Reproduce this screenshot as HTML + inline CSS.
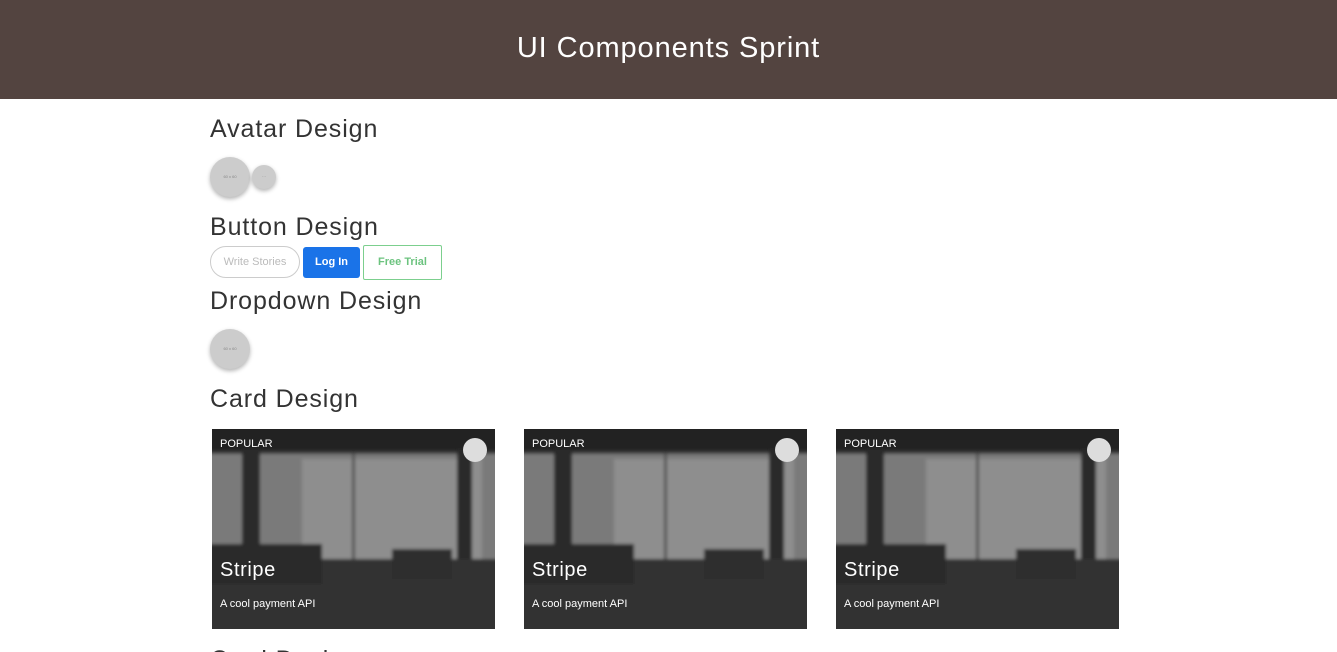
<!DOCTYPE html>
<html><head><style>
html,body{margin:0;height:652px;overflow:hidden}
body{font-family:"Liberation Sans",sans-serif;background:#fff;width:1337px}
#w{position:relative;width:1337px;height:652px;overflow:hidden}
.hdr{position:absolute;left:0;top:0;width:1337px;height:99px;background:#534440;color:#fff;font-size:29px;text-align:center;line-height:97px;letter-spacing:0.9px}
h2{position:absolute;left:210px;margin:0;font-weight:normal;font-size:25px;color:#333;letter-spacing:0.9px}
.av{position:absolute;border-radius:50%;background:#ccc;box-shadow:0 2px 4px rgba(0,0,0,.3);font-size:4px;color:#888;text-align:center}
.btn{position:absolute;top:246px;height:32px;box-sizing:border-box;font-size:11px;line-height:30px;text-align:center}
.card{position:absolute;top:429px;width:283px;height:200px;overflow:hidden;background:#333}
.card .t{position:absolute;color:#fff}
</style></head><body><div id="w">
<div class="hdr">UI Components Sprint</div>
<h2 style="top:115px">Avatar Design</h2>
<div class="av" style="left:210px;top:157px;width:40px;height:40px;line-height:40px">60 x 60</div>
<div class="av" style="left:252px;top:165px;width:24px;height:24px;line-height:24px">···</div>
<h2 style="top:213px">Button Design</h2>
<div class="btn" style="left:210px;width:90px;border:1px solid #ccc;border-radius:16px;color:#bbb">Write Stories</div>
<div class="btn" style="left:303px;width:57px;background:#1a73e8;border-radius:3px;color:#fff;font-weight:bold;top:247px;height:31px">Log In</div>
<div class="btn" style="left:363px;width:79px;border:1px solid #7ccf8e;border-radius:2px;color:#6cc37f;font-weight:bold;top:245px;height:35px;line-height:33px">Free Trial</div>
<h2 style="top:287px">Dropdown Design</h2>
<div class="av" style="left:210px;top:329px;width:40px;height:40px;line-height:40px">60 x 60</div>
<h2 style="top:385px">Card Design</h2>
<h2 style="top:646px">Card Design</h2>

<div class="card" style="left:212px">
<svg width="283" height="200"><defs><filter id="b" x="-10%" y="-10%" width="120%" height="120%"><feGaussianBlur stdDeviation="1.5" edgeMode="duplicate"/></filter></defs><g filter="url(#b)"><rect x="-10" y="-10" width="303" height="220" fill="#3a3a3a"/><rect x="-10" y="-10" width="303" height="32" fill="#222"/><rect x="-10" y="25" width="303" height="120" fill="#7a7a7a"/><rect x="90" y="30" width="180" height="110" fill="#8e8e8e"/><rect x="30" y="20" width="18" height="130" fill="#2b2b2b"/><rect x="245" y="20" width="15" height="130" fill="#2b2b2b"/><rect x="140" y="25" width="3" height="120" fill="#555"/><rect x="-10" y="130" width="303" height="80" fill="#333"/><rect x="-10" y="115" width="120" height="40" fill="#2a2a2a"/><rect x="180" y="120" width="60" height="30" fill="#2d2d2d"/></g></svg>
<div class="t" style="left:8px;top:9px;font-size:11px">POPULAR</div>
<div class="av" style="left:251px;top:9px;width:24px;height:24px;background:#ddd;box-shadow:none"></div>
<div class="t" style="left:8px;top:130px;font-size:20px;letter-spacing:0.6px">Stripe</div>
<div class="t" style="left:8px;top:169px;font-size:11px">A cool payment API</div>
</div>
<div class="card" style="left:524px">
<svg width="283" height="200"><g filter="url(#b)"><rect x="-10" y="-10" width="303" height="220" fill="#3a3a3a"/><rect x="-10" y="-10" width="303" height="32" fill="#222"/><rect x="-10" y="25" width="303" height="120" fill="#7a7a7a"/><rect x="90" y="30" width="180" height="110" fill="#8e8e8e"/><rect x="30" y="20" width="18" height="130" fill="#2b2b2b"/><rect x="245" y="20" width="15" height="130" fill="#2b2b2b"/><rect x="140" y="25" width="3" height="120" fill="#555"/><rect x="-10" y="130" width="303" height="80" fill="#333"/><rect x="-10" y="115" width="120" height="40" fill="#2a2a2a"/><rect x="180" y="120" width="60" height="30" fill="#2d2d2d"/></g></svg>
<div class="t" style="left:8px;top:9px;font-size:11px">POPULAR</div>
<div class="av" style="left:251px;top:9px;width:24px;height:24px;background:#ddd;box-shadow:none"></div>
<div class="t" style="left:8px;top:130px;font-size:20px;letter-spacing:0.6px">Stripe</div>
<div class="t" style="left:8px;top:169px;font-size:11px">A cool payment API</div>
</div>
<div class="card" style="left:836px">
<svg width="283" height="200"><g filter="url(#b)"><rect x="-10" y="-10" width="303" height="220" fill="#3a3a3a"/><rect x="-10" y="-10" width="303" height="32" fill="#222"/><rect x="-10" y="25" width="303" height="120" fill="#7a7a7a"/><rect x="90" y="30" width="180" height="110" fill="#8e8e8e"/><rect x="30" y="20" width="18" height="130" fill="#2b2b2b"/><rect x="245" y="20" width="15" height="130" fill="#2b2b2b"/><rect x="140" y="25" width="3" height="120" fill="#555"/><rect x="-10" y="130" width="303" height="80" fill="#333"/><rect x="-10" y="115" width="120" height="40" fill="#2a2a2a"/><rect x="180" y="120" width="60" height="30" fill="#2d2d2d"/></g></svg>
<div class="t" style="left:8px;top:9px;font-size:11px">POPULAR</div>
<div class="av" style="left:251px;top:9px;width:24px;height:24px;background:#ddd;box-shadow:none"></div>
<div class="t" style="left:8px;top:130px;font-size:20px;letter-spacing:0.6px">Stripe</div>
<div class="t" style="left:8px;top:169px;font-size:11px">A cool payment API</div>
</div>
</div></body></html>
